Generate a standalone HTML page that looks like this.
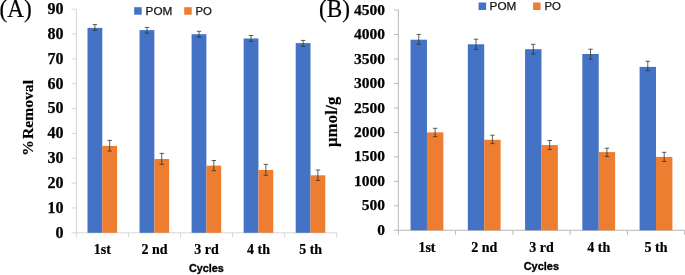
<!DOCTYPE html>
<html><head><meta charset="utf-8"><title>chart</title>
<style>
html,body{margin:0;padding:0;background:#fff;}
body{width:685px;height:275px;overflow:hidden;font-family:"Liberation Sans",sans-serif;}
svg{display:block;}
</style></head><body>
<svg width="685" height="275" viewBox="0 0 685 275">
<defs><filter id="soft" x="-2%" y="-2%" width="104%" height="104%" color-interpolation-filters="sRGB"><feGaussianBlur stdDeviation="0.35"/></filter></defs>
<rect width="685" height="275" fill="#fff"/>
<g filter="url(#soft)">
<g stroke="#CDCDCD" stroke-width="0.8" fill="none">
<line x1="76.4" y1="9.2" x2="76.4" y2="237.3"/>
<line x1="71.4" y1="232.8" x2="336.65" y2="232.8"/>
<line x1="71.4" y1="207.96" x2="76.4" y2="207.96"/>
<line x1="71.4" y1="183.11" x2="76.4" y2="183.11"/>
<line x1="71.4" y1="158.27" x2="76.4" y2="158.27"/>
<line x1="71.4" y1="133.42" x2="76.4" y2="133.42"/>
<line x1="71.4" y1="108.58" x2="76.4" y2="108.58"/>
<line x1="71.4" y1="83.73" x2="76.4" y2="83.73"/>
<line x1="71.4" y1="58.89" x2="76.4" y2="58.89"/>
<line x1="71.4" y1="34.04" x2="76.4" y2="34.04"/>
<line x1="71.4" y1="9.20" x2="76.4" y2="9.20"/>
<line x1="128.45" y1="232.8" x2="128.45" y2="237.3"/>
<line x1="180.50" y1="232.8" x2="180.50" y2="237.3"/>
<line x1="232.55" y1="232.8" x2="232.55" y2="237.3"/>
<line x1="284.60" y1="232.8" x2="284.60" y2="237.3"/>
<line x1="336.65" y1="232.8" x2="336.65" y2="237.3"/>
</g>
<rect x="87.50" y="27.90" width="14.8" height="204.90" fill="#4472C4"/>
<rect x="102.30" y="145.90" width="14.8" height="86.90" fill="#ED7D31"/>
<rect x="139.55" y="30.10" width="14.8" height="202.70" fill="#4472C4"/>
<rect x="154.35" y="159.00" width="14.8" height="73.80" fill="#ED7D31"/>
<rect x="191.60" y="34.20" width="14.8" height="198.60" fill="#4472C4"/>
<rect x="206.40" y="165.60" width="14.8" height="67.20" fill="#ED7D31"/>
<rect x="243.65" y="38.50" width="14.8" height="194.30" fill="#4472C4"/>
<rect x="258.45" y="170.00" width="14.8" height="62.80" fill="#ED7D31"/>
<rect x="295.70" y="43.10" width="14.8" height="189.70" fill="#4472C4"/>
<rect x="310.50" y="175.30" width="14.8" height="57.50" fill="#ED7D31"/>
<g stroke="#303030" stroke-width="0.78" fill="none">
<path d="M94.90 24.60V30.40M92.70 24.60H97.10M92.70 30.40H97.10"/>
<path d="M109.70 140.40V151.10M107.50 140.40H111.90M107.50 151.10H111.90"/>
<path d="M146.95 27.40V33.10M144.75 27.40H149.15M144.75 33.10H149.15"/>
<path d="M161.75 153.40V164.30M159.55 153.40H163.95M159.55 164.30H163.95"/>
<path d="M199.00 31.30V37.10M196.80 31.30H201.20M196.80 37.10H201.20"/>
<path d="M213.80 160.50V170.70M211.60 160.50H216.00M211.60 170.70H216.00"/>
<path d="M251.05 35.50V41.30M248.85 35.50H253.25M248.85 41.30H253.25"/>
<path d="M265.85 164.40V175.30M263.65 164.40H268.05M263.65 175.30H268.05"/>
<path d="M303.10 40.40V46.40M300.90 40.40H305.30M300.90 46.40H305.30"/>
<path d="M317.90 170.00V180.40M315.70 170.00H320.10M315.70 180.40H320.10"/>
</g>
<g font-family="'Liberation Serif', serif" font-weight="bold" font-size="16" fill="#000" stroke="#000" stroke-width="0.25">
<text x="63.5" y="237.70" text-anchor="end">0</text>
<text x="63.5" y="212.86" text-anchor="end">10</text>
<text x="63.5" y="188.01" text-anchor="end">20</text>
<text x="63.5" y="163.17" text-anchor="end">30</text>
<text x="63.5" y="138.32" text-anchor="end">40</text>
<text x="63.5" y="113.48" text-anchor="end">50</text>
<text x="63.5" y="88.63" text-anchor="end">60</text>
<text x="63.5" y="63.79" text-anchor="end">70</text>
<text x="63.5" y="38.94" text-anchor="end">80</text>
<text x="63.5" y="14.10" text-anchor="end">90</text>
</g>
<g font-family="'Liberation Serif', serif" font-weight="bold" font-size="14" fill="#000" stroke="#000" stroke-width="0.2">
<text x="102.43" y="254.1" text-anchor="middle">1st</text>
<text x="154.47" y="254.1" text-anchor="middle">2 nd</text>
<text x="206.53" y="254.1" text-anchor="middle">3 rd</text>
<text x="258.57" y="254.1" text-anchor="middle">4 th</text>
<text x="310.62" y="254.1" text-anchor="middle">5 th</text>
</g>
<g stroke="#B9B9B9" stroke-width="1.0" fill="none">
<line x1="398.35" y1="10.0" x2="398.35" y2="234.8"/>
<line x1="393.95000000000005" y1="230.3" x2="684.6500000000001" y2="230.3"/>
<line x1="393.95000000000005" y1="205.82" x2="398.35" y2="205.82"/>
<line x1="393.95000000000005" y1="181.34" x2="398.35" y2="181.34"/>
<line x1="393.95000000000005" y1="156.87" x2="398.35" y2="156.87"/>
<line x1="393.95000000000005" y1="132.39" x2="398.35" y2="132.39"/>
<line x1="393.95000000000005" y1="107.91" x2="398.35" y2="107.91"/>
<line x1="393.95000000000005" y1="83.43" x2="398.35" y2="83.43"/>
<line x1="393.95000000000005" y1="58.96" x2="398.35" y2="58.96"/>
<line x1="393.95000000000005" y1="34.48" x2="398.35" y2="34.48"/>
<line x1="393.95000000000005" y1="10.00" x2="398.35" y2="10.00"/>
<line x1="455.61" y1="230.3" x2="455.61" y2="234.8"/>
<line x1="512.87" y1="230.3" x2="512.87" y2="234.8"/>
<line x1="570.13" y1="230.3" x2="570.13" y2="234.8"/>
<line x1="627.39" y1="230.3" x2="627.39" y2="234.8"/>
<line x1="684.65" y1="230.3" x2="684.65" y2="234.8"/>
</g>
<rect x="410.55" y="39.70" width="16.4" height="190.60" fill="#4472C4"/>
<rect x="426.95" y="132.40" width="16.4" height="97.90" fill="#ED7D31"/>
<rect x="467.81" y="44.30" width="16.4" height="186.00" fill="#4472C4"/>
<rect x="484.21" y="139.80" width="16.4" height="90.50" fill="#ED7D31"/>
<rect x="525.07" y="49.20" width="16.4" height="181.10" fill="#4472C4"/>
<rect x="541.47" y="145.10" width="16.4" height="85.20" fill="#ED7D31"/>
<rect x="582.33" y="54.00" width="16.4" height="176.30" fill="#4472C4"/>
<rect x="598.73" y="152.10" width="16.4" height="78.20" fill="#ED7D31"/>
<rect x="639.59" y="66.90" width="16.4" height="163.40" fill="#4472C4"/>
<rect x="655.99" y="156.90" width="16.4" height="73.40" fill="#ED7D31"/>
<g stroke="#303030" stroke-width="0.78" fill="none">
<path d="M418.75 34.40V44.30M416.55 34.40H420.95M416.55 44.30H420.95"/>
<path d="M435.15 128.30V136.70M432.95 128.30H437.35M432.95 136.70H437.35"/>
<path d="M476.01 39.20V49.40M473.81 39.20H478.21M473.81 49.40H478.21"/>
<path d="M492.41 135.20V143.60M490.21 135.20H494.61M490.21 143.60H494.61"/>
<path d="M533.27 44.30V54.00M531.07 44.30H535.47M531.07 54.00H535.47"/>
<path d="M549.67 140.50V149.40M547.47 140.50H551.87M547.47 149.40H551.87"/>
<path d="M590.53 49.20V59.10M588.33 49.20H592.73M588.33 59.10H592.73"/>
<path d="M606.93 148.20V156.40M604.73 148.20H609.13M604.73 156.40H609.13"/>
<path d="M647.79 61.30V70.70M645.59 61.30H649.99M645.59 70.70H649.99"/>
<path d="M664.19 152.30V161.50M661.99 152.30H666.39M661.99 161.50H666.39"/>
</g>
<g font-family="'Liberation Serif', serif" font-weight="bold" font-size="15.5" fill="#000" stroke="#000" stroke-width="0.25">
<text x="385.0" y="234.90" text-anchor="end">0</text>
<text x="385.0" y="210.42" text-anchor="end">500</text>
<text x="385.0" y="185.94" text-anchor="end">1000</text>
<text x="385.0" y="161.47" text-anchor="end">1500</text>
<text x="385.0" y="136.99" text-anchor="end">2000</text>
<text x="385.0" y="112.51" text-anchor="end">2500</text>
<text x="385.0" y="88.03" text-anchor="end">3000</text>
<text x="385.0" y="63.56" text-anchor="end">3500</text>
<text x="385.0" y="39.08" text-anchor="end">4000</text>
<text x="385.0" y="14.60" text-anchor="end">4500</text>
</g>
<g font-family="'Liberation Serif', serif" font-weight="bold" font-size="14" fill="#000" stroke="#000" stroke-width="0.2">
<text x="426.98" y="251.6" text-anchor="middle">1st</text>
<text x="484.24" y="251.6" text-anchor="middle">2 nd</text>
<text x="541.50" y="251.6" text-anchor="middle">3 rd</text>
<text x="598.76" y="251.6" text-anchor="middle">4 th</text>
<text x="656.02" y="251.6" text-anchor="middle">5 th</text>
</g>
<!-- panel labels -->
<g font-family="'Liberation Serif', serif" font-size="24" fill="#000" stroke="#000" stroke-width="0.2">
<text transform="translate(-0.5 17.1) scale(0.97 1.06)">(A)</text>
<text transform="translate(318.9 17.1) scale(0.97 1.06)">(B)</text>
</g>
<!-- y axis titles -->
<g font-family="'Liberation Serif', serif" font-weight="bold" fill="#000" stroke="#000" stroke-width="0.2">
<text font-size="15.6" text-anchor="middle" transform="translate(33.3 117.9) rotate(-90)">%&#8202;Removal</text>
<text font-size="16.5" letter-spacing="0.3" text-anchor="middle" transform="translate(336.8 121.7) rotate(-90)">µmol/g</text>
</g>
<!-- x axis titles -->
<g font-family="'Liberation Sans', sans-serif" font-weight="bold" font-size="11.8" fill="#000" stroke="#000" stroke-width="0.35">
<text x="188.9" y="272" textLength="35" lengthAdjust="spacingAndGlyphs">Cycles</text>
<text x="523.7" y="269.6" textLength="35.4" lengthAdjust="spacingAndGlyphs">Cycles</text>
</g>
<!-- legends -->
<g font-family="'Liberation Sans', sans-serif" font-size="11.4" fill="#141414" stroke="#141414" stroke-width="0.25">
<rect x="134.2" y="7.2" width="7.5" height="7.5" fill="#4472C4" stroke="none"/>
<text x="145.6" y="14.6" textLength="26.8" lengthAdjust="spacingAndGlyphs">POM</text>
<rect x="184.2" y="7.2" width="7.5" height="7.5" fill="#ED7D31" stroke="none"/>
<text x="195.5" y="14.6">PO</text>
<rect x="478.6" y="2.5" width="7.5" height="7.5" fill="#4472C4" stroke="none"/>
<text x="489.6" y="10" textLength="26.8" lengthAdjust="spacingAndGlyphs">POM</text>
<rect x="533.1" y="2.5" width="7.5" height="7.5" fill="#ED7D31" stroke="none"/>
<text x="544.4" y="10">PO</text>
</g>
</g>
</svg>
</body></html>
